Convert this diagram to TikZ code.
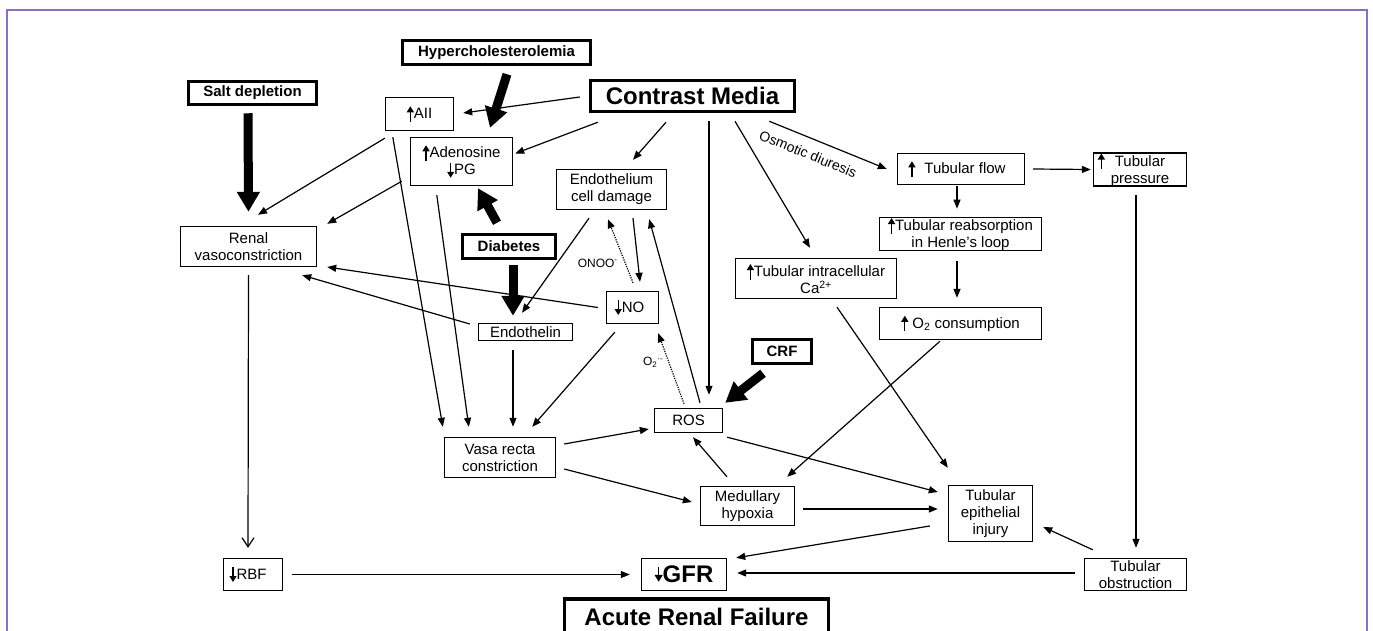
\documentclass[tikz,border=0pt]{standalone}
\usepackage{fontspec}
\setmainfont{Liberation Sans}
\usetikzlibrary{arrows.meta,calc}
\definecolor{framepurple}{RGB}{140,110,200}
\newcommand{\upar}{\tikz[baseline=0pt,x=1pt,y=1pt]\draw[black,solid,line width=1.3pt,-{Triangle[length=6pt,width=7pt]}] (0,-3)--(0,12.5);}
\newcommand{\dnar}{\tikz[baseline=0pt,x=1pt,y=1pt]\draw[black,solid,line width=1.3pt,-{Triangle[length=6pt,width=7pt]}] (0,12)--(0,-3);}
\newcommand{\bigdn}{\tikz[baseline=0pt,x=1pt,y=1pt]\draw[black,solid,line width=1.6pt,-{Triangle[length=7pt,width=8pt]}] (0,16)--(0,1);}
\begin{document}
\begin{tikzpicture}[x=1pt,y=-1pt,
  box/.style={draw, line width=1.4pt, inner sep=0pt, align=center, font=\fontsize{15}{17}\selectfont},
  bbox/.style={draw, line width=3.5pt, inner sep=0pt, align=center, font=\bfseries\fontsize{15}{17}\selectfont},
  big/.style={font=\bfseries\fontsize{24}{28}\selectfont},
  arr/.style={line width=1.2pt, -{Triangle[length=9pt,width=7pt]}},
  dots/.style={dash pattern=on 1.2pt off 1.2pt},
  fat/.style={line width=9pt, -{Triangle[length=20pt,width=22pt]}},
  openarr/.style={line width=1.2pt, -{Straight Barb[length=9pt,width=12pt,line width=1.2pt]}},
  lbl/.style={inner sep=1pt, font=\fontsize{12}{14}\selectfont}
]
\useasboundingbox (0,0) rectangle (1373,630);
\draw[framepurple, line width=2pt] (7,700) -- (7,10) -- (1367,10) -- (1367,700);

% nodes
\node[bbox, minimum width=128pt, minimum height=23pt] (salt) at (252.5,93) {Salt depletion};
\node[bbox, minimum width=188pt, minimum height=24pt] (hyper) at (496.5,52.5) {Hypercholesterolemia};
\node[box, minimum width=68pt, minimum height=33pt] (aii) at (419.5,114) {\upar AII};
\node[box, minimum width=102pt, minimum height=48pt] (aden) at (461.5,161.5) {\upar Adenosine\\\dnar PG};
\node[bbox, big, minimum width=204pt, minimum height=31pt] (cm) at (692.5,96) {Contrast Media};
\node[box, minimum width=110pt, minimum height=40pt] (ecd) at (611.5,189.5) {Endothelium\\cell damage};
\node[box, minimum width=127pt, minimum height=31pt] (tflow) at (961,169) {\upar\hspace{9pt}Tubular flow\hspace{8pt}};
\node[box, minimum width=162pt, minimum height=31pt] (treab) at (960.5,234) {\upar Tubular reabsorption\\in Henle’s loop};
\node[box, minimum width=162pt, minimum height=32pt] (o2) at (960.5,323.5) {\upar\ O\textsubscript{2} consumption};
\node[box, minimum width=93pt, minimum height=32pt] (tpress) at (1140,169.5) {\llap{\upar\hspace{10pt}}Tubular\\pressure};
\node[box, minimum width=161pt, minimum height=40pt] (tca) at (816,278.5) {\upar Tubular intracellular\\Ca\textsuperscript{2+}};
\node[bbox, minimum width=59pt, minimum height=24pt] (crf) at (782,351.5) {CRF};
\node[box, minimum width=136pt, minimum height=40pt] (renal) at (248.5,246.5) {Renal\\vasoconstriction};
\node[bbox, minimum width=93pt, minimum height=24pt] (diab) at (509,246.5) {Diabetes};
\node[box, minimum width=94pt, minimum height=17pt] (endo) at (525.5,332) {Endothelin};
\node[box, minimum width=52pt, minimum height=32pt] (no) at (632.5,307.5) {\dnar NO\hspace{6pt}};
\node[box, minimum width=68pt, minimum height=24pt] (ros) at (688.5,420.5) {ROS};
\node[box, minimum width=111pt, minimum height=40pt] (vasa) at (500,457.5) {Vasa recta\\constriction};
\node[box, minimum width=94pt, minimum height=39pt] (med) at (747.5,506) {Medullary\\hypoxia};
\node[box, big, minimum width=85pt, minimum height=32pt] (gfr) at (684,574.5) {\bigdn GFR};
\node[bbox, big, minimum width=264pt, minimum height=36pt] (arf) at (696.5,617) {Acute Renal Failure};
\node[box, minimum width=84pt, minimum height=56pt] (tei) at (990.5,513.5) {Tubular\\epithelial\\injury};
\node[box, minimum width=102pt, minimum height=32pt] (tobs) at (1135.5,574.5) {Tubular\\obstruction};
\node[box, minimum width=59pt, minimum height=32pt] (rbf) at (253,574.5) {\dnar RBF\hspace{10pt}};

% connectors
\draw[arr] ([shift={(-9,1)}]cm.west) -- ([shift={(9,-1)}]aii.east);
\draw[arr] ([shift={(9,9)}]cm.south west) -- ([shift={(2,-8)}]aden.east);
\draw[fat] ([shift={(10.5,8)}]hyper.south) -- ([shift={(28.5,-9)}]aden.north);
\draw[fat] ([shift={(-4.5,7)}]salt.south) -- ([shift={(0,-14)}]renal.north);
\draw[arr] ([shift={(0,7)}]aii.south west) -- ([shift={(9.5,-11)}]renal.north);
\draw[arr] ([shift={(-8,-5)}]aden.south west) -- ([shift={(10,-2)}]renal.north east);
\draw[arr] ([shift={(8,6)}]aii.south west) -- ([shift={(-1,-10)}]vasa.north west);
\draw[arr] ([shift={(27,9)}]aden.south west) -- ([shift={(25,-10)}]vasa.north west);
\draw[arr] ([shift={(-12.5,9)}]endo.south) -- ([shift={(13,-10)}]vasa.north);
\draw[arr] ([shift={(9,8)}]no.south west) -- ([shift={(-24,-10)}]vasa.north east);
\draw[arr] ([shift={(-26.5,9)}]cm.south) -- ([shift={(21.5,-9)}]ecd.north);
\draw[arr] ([shift={(16.5,8)}]cm.south) -- ([shift={(20.5,-13)}]ros.north);
\draw[arr] ([shift={(42.5,8)}]cm.south) -- ([shift={(-6,-10)}]tca.north);
\draw[arr] ([shift={(-27,8)}]cm.south east) -- node[pos=0.38, sloped, below=9pt, inner sep=1pt, font=\fontsize{14}{16}\selectfont] {Osmotic diuresis} ([shift={(-10,0)}]tflow.west);
\draw[arr] ([shift={(8,0)}]tflow.east) -- ([shift={(-2,0)}]tpress.west);
\draw[arr] ([shift={(-4,1)}]tflow.south) -- ([shift={(-3.5,-8)}]treab.north);
\draw[arr] ([shift={(-3.5,10)}]treab.south) -- ([shift={(-3.5,-9)}]o2.north);
\draw[arr] ([shift={(-4,8)}]tpress.south) -- ([shift={(0.5,-10)}]tobs.north);
\draw[arr] ([shift={(9,-8)}]tobs.north west) -- ([shift={(10,13.5)}]tei.east);
\draw[arr] ([shift={(-9,-1.5)}]tobs.west) -- ([shift={(10,-1.5)}]gfr.east);
\draw[arr] ([shift={(-18,12.5)}]tei.west) -- ([shift={(9,0)}]gfr.north east);
\draw[arr] ([shift={(8,3)}]med.east) -- ([shift={(-10,-4.5)}]tei.west);
\draw[arr] ([shift={(4,4)}]ros.south east) -- ([shift={(-10,-21.5)}]tei.west);
\draw[arr] ([shift={(21,8)}]tca.south) -- ([shift={(0,-17)}]tei.north west);
\draw[arr] ([shift={(-20.5,1)}]o2.south) -- ([shift={(-8,-9)}]med.north east);
\draw[arr] ([shift={(-20.5,-9)}]med.north) -- ([shift={(4.5,4)}]ros.south);
\draw[arr] ([shift={(8,-13.5)}]vasa.east) -- ([shift={(-5,8.5)}]ros.west);
\draw[arr] ([shift={(8,11.5)}]vasa.east) -- ([shift={(-8,-4)}]med.west);
\draw[arr] ([shift={(-22.5,8)}]ecd.south) -- ([shift={(-3.5,-10)}]endo.north);
\draw[arr] ([shift={(21.5,8)}]ecd.south) -- ([shift={(7.5,-9)}]no.north);
\draw[arr, dots] ([shift={(0.5,-8)}]no.north) -- node[pos=0.31, left=6pt, lbl] {ONOO\textsuperscript{-}} ([shift={(-3.5,9)}]ecd.south);
\draw[arr] ([shift={(11.5,-5)}]ros.north) -- ([shift={(-18,9)}]ecd.south east);
\draw[arr, dots] ([shift={(-4.5,-4)}]ros.north) -- node[pos=0.59, left=4pt, lbl] {O\textsubscript{2}\textsuperscript{·-}} ([shift={(-1,9)}]no.south east);
\draw[arr] ([shift={(-8,0)}]no.west) -- ([shift={(10,20.5)}]renal.east);
\draw[arr] ([shift={(-8,-8)}]endo.west) -- ([shift={(-15,8)}]renal.south east);
\draw[fat] ([shift={(4,5)}]diab.south) -- ([shift={(-12.5,-7)}]endo.north);
\draw[fat] ([shift={(-12,-10)}]diab.north) -- ([shift={(16.5,2)}]aden.south);
\draw[fat] ([shift={(-19,8)}]crf.south) -- ([shift={(2,-5)}]ros.north east);
\draw[openarr] ([shift={(0,8)}]renal.south) -- ([shift={(-5,-10)}]rbf.north);
\draw[arr] ([shift={(9,0)}]rbf.east) -- ([shift={(-11,0)}]gfr.west);
\end{tikzpicture}
\end{document}
